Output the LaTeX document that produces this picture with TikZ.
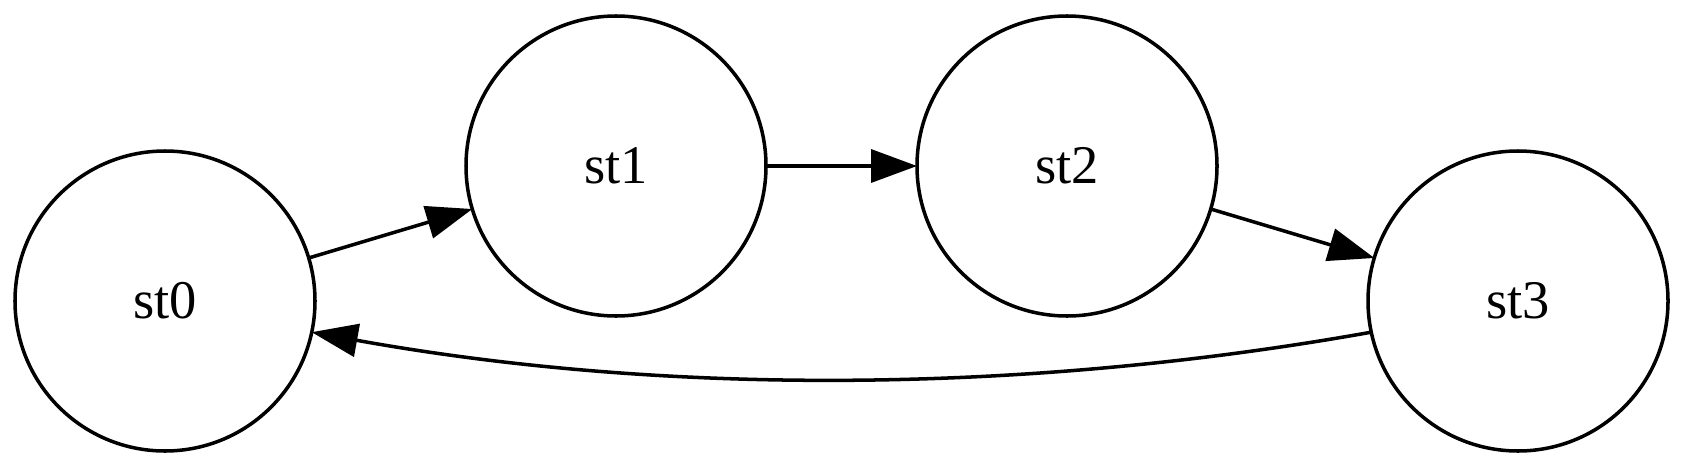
\documentclass[tikz,border=0pt]{standalone}
\usepackage{fontspec}
\setmainfont{Liberation Serif}
\usetikzlibrary{arrows.meta, positioning}

\begin{document}
\begin{tikzpicture}[node distance=1.51cm,
    state/.style={circle, draw=black, line width=1pt, minimum size=3cm, inner sep=0pt, outer sep=0pt, font=\fontsize{15.5pt}{18pt}\selectfont},
    edge/.style={-{Triangle[length=0.46cm, width=0.33cm]}, line width=1pt}]
    \useasboundingbox (0,0) rectangle (16.83,4.67);
    % Nodes
    \node (st0) [state] at (1.65,1.66) {st0};
    \node (st1) [state, right=of st0, yshift=1.35cm] {st1};
    \node (st2) [state, right=of st1] {st2};
    \node (st3) [state, right=of st2, yshift=-1.35cm] {st3};

    % Arrows
    \draw[edge] (st0) -- (st1);
    \draw[edge] (st1) -- (st2);
    \draw[edge] (st2) -- (st3);
    \draw[edge] (st3.192) .. controls (10.20,0.72) and (6.60,0.72) .. (st0.348);
\end{tikzpicture}
\end{document}
